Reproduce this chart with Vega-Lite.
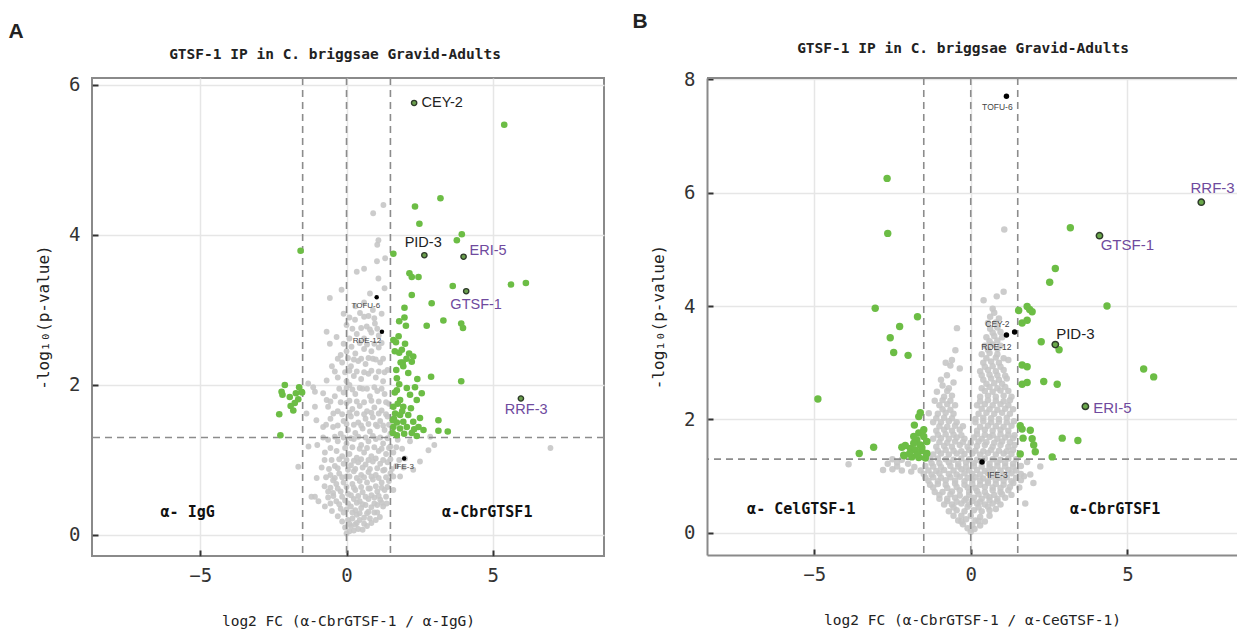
{
"$schema": "https://vega.github.io/schema/vega-lite/v6.json",
"background": "white",
"padding": {"left": 8, "top": 10, "right": 0, "bottom": 0},
"spacing": 26,
"config": {
  "view": {"stroke": "#8a8a8a", "strokeWidth": 2},
  "axis": {"domain": false, "grid": true, "gridColor": "#e6e6e6", "gridWidth": 1.5, "tickColor": "#333333", "tickSize": -6, "tickWidth": 2, "labelFont": "DejaVu Sans Mono", "labelFontSize": 19, "labelColor": "#333333", "titleFont": "DejaVu Sans Mono", "titleFontWeight": "normal", "titleColor": "#222222", "format": "d"},
  "axisX": {"labelPadding": 16, "titlePadding": 29, "titleFontSize": 14.5},
  "axisY": {"labelPadding": 18, "titlePadding": 17, "titleFontSize": 16},
  "title": {"color": "#222222"}
},
"datasets": {
  "aNs": [{"x":0.0,"y":0.02},{"x":0.1,"y":0.05},{"x":0.25,"y":0.06},{"x":0.4,"y":0.08},{"x":0.55,"y":0.07},{"x":-0.05,"y":0.1},{"x":0.15,"y":0.12},{"x":0.7,"y":0.12},{"x":0.3,"y":0.14},{"x":0.85,"y":0.16},
  {"x":-0.15,"y":0.18},{"x":0.05,"y":0.2},{"x":0.2,"y":0.22},{"x":0.45,"y":0.2},{"x":0.6,"y":0.23},{"x":0.8,"y":0.22},{"x":1.0,"y":0.2},{"x":1.14,"y":0.24},{"x":-0.3,"y":0.25},{"x":0.35,"y":0.27},{"x":0.7,"y":0.29},{"x":0.95,"y":0.3},
  {"x":-0.5,"y":0.32},{"x":-0.74,"y":0.38},{"x":-0.2,"y":0.35},{"x":0.0,"y":0.34},{"x":0.15,"y":0.38},{"x":0.3,"y":0.33},{"x":0.5,"y":0.36},{"x":0.65,"y":0.4},{"x":0.85,"y":0.37},{"x":1.05,"y":0.4},{"x":1.25,"y":0.38},{"x":1.37,"y":0.42},{"x":-0.35,"y":0.45},{"x":-0.05,"y":0.46},{"x":0.25,"y":0.48},{"x":0.45,"y":0.45},{"x":0.75,"y":0.48},{"x":0.95,"y":0.5},{"x":1.15,"y":0.47},{"x":-0.96,"y":0.45},{"x":-1.08,"y":0.51},{"x":-1.2,"y":0.51},{"x":-0.63,"y":0.5},
  {"x":-0.46,"y":0.56},{"x":-0.2,"y":0.58},{"x":0.05,"y":0.55},{"x":0.3,"y":0.6},{"x":0.55,"y":0.57},{"x":0.8,"y":0.62},{"x":1.05,"y":0.58},{"x":1.3,"y":0.6},{"x":1.6,"y":0.6},{"x":-0.75,"y":0.65},{"x":-0.35,"y":0.68},{"x":-0.1,"y":0.7},{"x":0.2,"y":0.68},{"x":0.45,"y":0.72},{"x":0.7,"y":0.7},{"x":0.9,"y":0.74},{"x":1.2,"y":0.7},{"x":1.45,"y":0.72},{"x":-1.02,"y":0.76},{"x":-0.63,"y":0.58},{"x":-0.46,"y":0.73},
  {"x":-0.55,"y":0.8},{"x":-0.25,"y":0.82},{"x":0.0,"y":0.78},{"x":0.25,"y":0.85},{"x":0.5,"y":0.8},{"x":0.75,"y":0.84},{"x":1.0,"y":0.8},{"x":1.25,"y":0.86},{"x":1.5,"y":0.82},{"x":1.83,"y":0.78},{"x":2.28,"y":0.87},{"x":-0.85,"y":0.9},{"x":-0.4,"y":0.92},{"x":-0.1,"y":0.95},{"x":0.15,"y":0.93},{"x":0.4,"y":0.97},{"x":0.65,"y":0.94},{"x":0.9,"y":0.98},{"x":1.15,"y":0.95},{"x":1.4,"y":0.97},{"x":1.7,"y":0.92},{"x":2.51,"y":0.98},{"x":-1.65,"y":0.91},{"x":-0.51,"y":1.0},
  {"x":-0.34,"y":1.12},{"x":-0.74,"y":1.1},{"x":-0.63,"y":1.27},{"x":-0.15,"y":1.05},{"x":0.1,"y":1.08},{"x":0.35,"y":1.03},{"x":0.6,"y":1.1},{"x":0.85,"y":1.05},{"x":1.1,"y":1.12},{"x":1.35,"y":1.08},{"x":1.6,"y":1.1},{"x":1.9,"y":1.15},{"x":2.17,"y":1.25},{"x":2.8,"y":1.13},{"x":3.0,"y":1.2},{"x":-1.0,"y":1.2},{"x":-0.3,"y":1.25},{"x":0.0,"y":1.22},{"x":0.25,"y":1.28},{"x":0.5,"y":1.2},{"x":0.75,"y":1.25},{"x":1.0,"y":1.28},{"x":1.25,"y":1.22},{"x":1.5,"y":1.18},{"x":1.75,"y":1.27},{"x":6.97,"y":1.16},{"x":2.86,"y":1.31},{"x":-1.3,"y":1.18},
  {"x":-0.46,"y":1.44},{"x":-0.8,"y":1.44},{"x":-1.03,"y":1.53},{"x":-1.37,"y":1.62},{"x":-0.2,"y":1.35},{"x":0.05,"y":1.4},{"x":0.3,"y":1.36},{"x":0.55,"y":1.42},{"x":0.8,"y":1.38},{"x":1.05,"y":1.45},{"x":1.3,"y":1.4},{"x":1.5,"y":1.35},{"x":-0.55,"y":1.55},{"x":-0.1,"y":1.52},{"x":0.15,"y":1.58},{"x":0.4,"y":1.5},{"x":0.65,"y":1.55},{"x":0.9,"y":1.57},{"x":1.15,"y":1.52},{"x":1.4,"y":1.58},
  {"x":-0.63,"y":1.71},{"x":-1.08,"y":1.71},{"x":-0.68,"y":1.8},{"x":-0.8,"y":1.89},{"x":-1.08,"y":1.91},{"x":-1.14,"y":1.97},{"x":-0.3,"y":1.65},{"x":0.0,"y":1.76},{"x":0.2,"y":1.68},{"x":0.45,"y":1.72},{"x":0.7,"y":1.65},{"x":0.95,"y":1.7},{"x":1.2,"y":1.66},{"x":1.45,"y":1.75},{"x":-0.4,"y":1.85},{"x":-0.1,"y":1.9},{"x":0.3,"y":1.88},{"x":0.55,"y":1.95},{"x":0.8,"y":1.85},{"x":1.05,"y":1.92},{"x":1.3,"y":1.88},{"x":0.1,"y":2.0},
  {"x":-1.31,"y":2.02},{"x":-0.68,"y":2.06},{"x":-0.3,"y":2.1},{"x":0.0,"y":2.05},{"x":0.25,"y":2.12},{"x":0.5,"y":2.08},{"x":0.75,"y":2.15},{"x":1.0,"y":2.1},{"x":1.25,"y":2.05},{"x":-0.5,"y":2.25},{"x":-0.15,"y":2.3},{"x":0.15,"y":2.25},{"x":0.4,"y":2.32},{"x":0.65,"y":2.28},{"x":0.9,"y":2.35},{"x":1.15,"y":2.3},{"x":1.4,"y":2.2},{"x":-0.57,"y":2.55},{"x":0.17,"y":2.51},{"x":0.0,"y":2.45},{"x":0.3,"y":2.42},{"x":0.6,"y":2.48},{"x":0.85,"y":2.45},{"x":1.1,"y":2.5},{"x":-0.2,"y":2.4},
  {"x":-0.68,"y":2.71},{"x":-0.34,"y":2.64},{"x":0.1,"y":2.62},{"x":0.35,"y":2.68},{"x":0.6,"y":2.62},{"x":0.85,"y":2.7},{"x":1.1,"y":2.66},{"x":0.69,"y":2.78},{"x":0.97,"y":2.82},{"x":0.29,"y":2.87},{"x":0.46,"y":2.96},{"x":0.0,"y":2.8},{"x":0.75,"y":2.92},{"x":1.2,"y":2.95},{"x":-0.1,"y":2.95},
  {"x":-0.57,"y":3.16},{"x":-0.17,"y":3.27},{"x":0.8,"y":3.22},{"x":1.3,"y":3.29},{"x":1.09,"y":3.42},{"x":0.6,"y":3.55},{"x":0.35,"y":3.51},{"x":1.04,"y":3.65},{"x":1.32,"y":3.69},{"x":1.05,"y":3.87},{"x":1.09,"y":3.93},{"x":0.91,"y":4.29},{"x":1.26,"y":4.4},{"x":0.6,"y":3.1},{"x":0.3,"y":3.05},{"x":0.9,"y":3.0},
  {"x":0.1,"y":0.15},{"x":0.35,"y":0.16},{"x":0.6,"y":0.15},{"x":-0.1,"y":0.3},{"x":0.2,"y":0.3},{"x":0.45,"y":0.29},{"x":0.75,"y":0.31},{"x":1.05,"y":0.3},
  {"x":-0.55,"y":0.42},{"x":-0.25,"y":0.41},{"x":0.05,"y":0.42},{"x":0.35,"y":0.43},{"x":0.55,"y":0.41},{"x":0.95,"y":0.42},{"x":1.2,"y":0.43},
  {"x":-0.45,"y":0.52},{"x":-0.15,"y":0.51},{"x":0.15,"y":0.53},{"x":0.4,"y":0.52},{"x":0.65,"y":0.51},{"x":0.85,"y":0.53},{"x":1.1,"y":0.52},{"x":1.35,"y":0.51},
  {"x":-0.55,"y":0.63},{"x":-0.3,"y":0.62},{"x":0.0,"y":0.64},{"x":0.25,"y":0.63},{"x":0.5,"y":0.64},{"x":0.75,"y":0.62},{"x":1.0,"y":0.65},{"x":1.2,"y":0.63},{"x":1.4,"y":0.64},
  {"x":-0.7,"y":0.77},{"x":-0.4,"y":0.76},{"x":-0.15,"y":0.77},{"x":0.1,"y":0.78},{"x":0.35,"y":0.76},{"x":0.6,"y":0.77},{"x":0.85,"y":0.78},{"x":1.1,"y":0.76},{"x":1.35,"y":0.77},{"x":1.6,"y":0.78},
  {"x":-0.6,"y":0.88},{"x":-0.3,"y":0.89},{"x":0.05,"y":0.87},{"x":0.3,"y":0.88},{"x":0.55,"y":0.9},{"x":0.8,"y":0.88},{"x":1.05,"y":0.89},{"x":1.3,"y":0.87},{"x":1.55,"y":0.88},{"x":1.95,"y":0.9},
  {"x":-0.75,"y":1.0},{"x":-0.25,"y":1.01},{"x":0.0,"y":1.0},{"x":0.25,"y":0.99},{"x":0.5,"y":1.01},{"x":0.75,"y":1.0},{"x":1.0,"y":1.02},{"x":1.25,"y":1.0},{"x":1.5,"y":1.01},{"x":1.8,"y":1.0},{"x":2.0,"y":1.02},
  {"x":-0.55,"y":1.16},{"x":-0.05,"y":1.16},{"x":0.2,"y":1.17},{"x":0.45,"y":1.15},{"x":0.7,"y":1.16},{"x":0.95,"y":1.17},{"x":1.2,"y":1.15},{"x":1.45,"y":1.16},{"x":1.7,"y":1.17},
  {"x":-0.8,"y":1.3},{"x":-0.4,"y":1.31},{"x":-0.1,"y":1.3},{"x":0.15,"y":1.29},{"x":0.4,"y":1.31},{"x":0.65,"y":1.3},{"x":0.9,"y":1.32},{"x":1.15,"y":1.3},{"x":1.4,"y":1.29},
  {"x":-0.7,"y":1.47},{"x":-0.3,"y":1.46},{"x":0.0,"y":1.48},{"x":0.25,"y":1.47},{"x":0.5,"y":1.46},{"x":0.75,"y":1.48},{"x":1.0,"y":1.47},{"x":1.25,"y":1.46},{"x":1.45,"y":1.47},
  {"x":-0.45,"y":1.62},{"x":-0.15,"y":1.61},{"x":0.1,"y":1.63},{"x":0.35,"y":1.62},{"x":0.6,"y":1.61},{"x":0.85,"y":1.63},{"x":1.1,"y":1.62},{"x":1.35,"y":1.61},
  {"x":-0.55,"y":1.78},{"x":-0.2,"y":1.77},{"x":0.1,"y":1.79},{"x":0.35,"y":1.78},{"x":0.6,"y":1.77},{"x":0.85,"y":1.79},{"x":1.1,"y":1.78},{"x":1.35,"y":1.77},
  {"x":-0.25,"y":1.95},{"x":0.0,"y":1.96},{"x":0.2,"y":1.94},{"x":0.45,"y":1.96},{"x":0.7,"y":1.95},{"x":0.95,"y":1.97},{"x":1.2,"y":1.95},
  {"x":-0.4,"y":2.18},{"x":-0.05,"y":2.17},{"x":0.1,"y":2.19},{"x":0.35,"y":2.18},{"x":0.6,"y":2.17},{"x":0.85,"y":2.19},{"x":1.1,"y":2.18},{"x":1.3,"y":2.17},
  {"x":-0.3,"y":2.35},{"x":0.05,"y":2.36},{"x":0.25,"y":2.34},{"x":0.5,"y":2.35},{"x":0.75,"y":2.36},{"x":1.0,"y":2.34},{"x":1.25,"y":2.35},
  {"x":-0.1,"y":2.55},{"x":0.45,"y":2.56},{"x":0.7,"y":2.54},{"x":0.95,"y":2.55},{"x":1.2,"y":2.56},
  {"x":0.2,"y":2.75},{"x":0.5,"y":2.76},{"x":0.8,"y":2.74},{"x":1.05,"y":2.75},{"x":0.1,"y":2.9},{"x":0.6,"y":2.91},{"x":0.95,"y":2.89}],
  "aSig": [{"x":3.21,"y":4.49},{"x":2.34,"y":4.38},{"x":2.49,"y":4.15},{"x":3.94,"y":4.01},{"x":3.77,"y":3.93},{"x":1.6,"y":3.75},{"x":-1.57,"y":3.79},{"x":2.15,"y":3.49},{"x":2.23,"y":3.44},{"x":2.46,"y":3.44},{"x":3.63,"y":3.32},{"x":5.62,"y":3.34},{"x":6.13,"y":3.36},{"x":2.23,"y":3.2},{"x":2.91,"y":3.09},{"x":1.98,"y":3.03},{"x":1.98,"y":2.9},{"x":1.8,"y":2.85},{"x":2.03,"y":2.79},{"x":2.74,"y":2.79},{"x":3.31,"y":2.86},{"x":3.92,"y":2.82},{"x":3.98,"y":2.76},{"x":1.6,"y":2.6},{"x":1.69,"y":2.57},{"x":1.89,"y":2.47},{"x":1.8,"y":2.43},{"x":2.14,"y":2.42},{"x":2.28,"y":2.38},{"x":2.23,"y":2.31},{"x":1.92,"y":2.3},{"x":1.94,"y":2.25},{"x":1.72,"y":2.09},{"x":2.11,"y":2.16},{"x":2.89,"y":2.11},{"x":2.42,"y":2.08},{"x":3.92,"y":2.05},{"x":1.8,"y":2.01},{"x":1.72,"y":1.93},{"x":2.06,"y":1.96},{"x":2.34,"y":1.97},{"x":1.83,"y":1.8},{"x":2.17,"y":1.87},{"x":2.57,"y":1.89},{"x":2.4,"y":1.8},{"x":1.6,"y":1.71},{"x":1.94,"y":1.71},{"x":2.2,"y":1.69},{"x":1.66,"y":1.62},{"x":1.83,"y":1.6},{"x":2.11,"y":1.6},{"x":2.51,"y":1.56},{"x":1.58,"y":1.53},{"x":1.72,"y":1.5},{"x":1.94,"y":1.51},{"x":2.28,"y":1.51},{"x":3.14,"y":1.53},{"x":1.6,"y":1.44},{"x":1.83,"y":1.42},{"x":2.06,"y":1.44},{"x":2.31,"y":1.41},{"x":2.63,"y":1.4},{"x":3.14,"y":1.39},{"x":3.46,"y":1.38},{"x":1.58,"y":1.36},{"x":1.72,"y":1.33},{"x":1.97,"y":1.35},{"x":2.23,"y":1.36},{"x":2.46,"y":1.44},{"x":2.4,"y":1.32},{"x":1.65,"y":1.9},{"x":1.75,"y":1.75},{"x":1.62,"y":1.55},{"x":1.9,"y":1.65},{"x":1.7,"y":2.2},{"x":1.85,"y":2.3},{"x":1.65,"y":2.45},{"x":1.78,"y":2.65},{"x":2.0,"y":2.55},{"x":2.05,"y":2.35},{"x":5.39,"y":5.47},
  {"x":-2.11,"y":2.0},{"x":-2.22,"y":1.91},{"x":-2.19,"y":1.87},{"x":-1.94,"y":1.84},{"x":-1.62,"y":1.97},{"x":-1.54,"y":1.91},{"x":-1.73,"y":1.89},{"x":-1.65,"y":1.81},{"x":-1.77,"y":1.76},{"x":-1.91,"y":1.72},{"x":-1.82,"y":1.66},{"x":-2.3,"y":1.61},{"x":-2.26,"y":1.33},{"x":-1.52,"y":1.9}],
  "aRef": [{"gene":"TOFU-6","x":1.03,"y":3.17},{"gene":"RDE-12","x":1.21,"y":2.71},{"gene":"IFE-3","x":1.97,"y":1.02}],
  "aHit": [{"gene":"CEY-2","x":2.31,"y":5.76},{"gene":"PID-3","x":2.66,"y":3.73},{"gene":"ERI-5","x":4.0,"y":3.71},{"gene":"GTSF-1","x":4.09,"y":3.25},{"gene":"RRF-3","x":5.96,"y":1.82}],
  "aLab": [{"gene":"CEY-2","x":3.27,"y":5.76,"kind":"core"},{"gene":"PID-3","x":2.62,"y":3.89,"kind":"core"},{"gene":"ERI-5","x":4.84,"y":3.79,"kind":"rnai"},{"gene":"GTSF-1","x":4.43,"y":3.07,"kind":"rnai"},{"gene":"RRF-3","x":6.14,"y":1.67,"kind":"rnai"},{"gene":"TOFU-6","x":0.66,"y":3.05,"kind":"minor"},{"gene":"RDE-12","x":0.7,"y":2.59,"kind":"minor"},{"gene":"IFE-3","x":1.97,"y":0.91,"kind":"minor"}],
  "aSide": [{"t":"α- IgG","x":-5.43,"y":0.31},{"t":"α-CbrGTSF1","x":4.81,"y":0.31}],
  "bNs": [{"x":0.0,"y":0.02},{"x":-0.1,"y":0.08},{"x":0.12,"y":0.07},{"x":-0.25,"y":0.15},{"x":0.05,"y":0.14},{"x":0.3,"y":0.13},{"x":-0.4,"y":0.22},{"x":-0.15,"y":0.24},{"x":0.15,"y":0.22},{"x":0.45,"y":0.2},{"x":-0.55,"y":0.3},{"x":-0.3,"y":0.3},{"x":0.0,"y":0.3},{"x":0.3,"y":0.28},{"x":0.6,"y":0.3},
  {"x":-0.7,"y":0.38},{"x":-0.45,"y":0.4},{"x":-0.2,"y":0.38},{"x":0.1,"y":0.4},{"x":0.35,"y":0.38},{"x":0.6,"y":0.4},{"x":0.8,"y":0.42},{"x":-0.85,"y":0.5},{"x":-0.6,"y":0.5},{"x":-0.3,"y":0.52},{"x":-0.05,"y":0.5},{"x":0.2,"y":0.52},{"x":0.45,"y":0.5},{"x":0.7,"y":0.52},{"x":0.95,"y":0.5},{"x":1.74,"y":0.52},{"x":-1.0,"y":0.6},{"x":-0.75,"y":0.6},{"x":-0.5,"y":0.62},{"x":-0.15,"y":0.6},{"x":0.1,"y":0.62},{"x":0.35,"y":0.6},{"x":0.6,"y":0.63},{"x":0.85,"y":0.6},{"x":1.1,"y":0.62},
  {"x":-1.15,"y":0.72},{"x":-0.9,"y":0.72},{"x":-0.6,"y":0.73},{"x":-0.35,"y":0.75},{"x":-0.05,"y":0.72},{"x":0.2,"y":0.74},{"x":0.45,"y":0.72},{"x":0.7,"y":0.75},{"x":0.95,"y":0.72},{"x":1.2,"y":0.75},{"x":-1.3,"y":0.85},{"x":-1.05,"y":0.86},{"x":-0.8,"y":0.85},{"x":-0.5,"y":0.87},{"x":-0.2,"y":0.85},{"x":0.05,"y":0.86},{"x":0.3,"y":0.85},{"x":0.55,"y":0.88},{"x":0.8,"y":0.86},{"x":1.05,"y":0.85},{"x":1.36,"y":0.88},{"x":2.0,"y":0.88},{"x":-1.45,"y":0.97},{"x":-1.2,"y":0.98},{"x":-0.95,"y":0.97},{"x":-0.65,"y":0.98},{"x":-0.35,"y":0.99},{"x":-0.1,"y":0.97},{"x":0.15,"y":0.98},{"x":0.4,"y":0.96},{"x":0.65,"y":0.99},{"x":0.9,"y":0.97},{"x":1.15,"y":0.98},{"x":1.45,"y":0.97},{"x":1.7,"y":1.0},
  {"x":-2.8,"y":1.11},{"x":-2.5,"y":1.12},{"x":-2.2,"y":1.1},{"x":-1.9,"y":1.08},{"x":-1.6,"y":1.1},{"x":-1.35,"y":1.1},{"x":-1.1,"y":1.09},{"x":-0.85,"y":1.11},{"x":-0.55,"y":1.1},{"x":-0.3,"y":1.12},{"x":-0.05,"y":1.1},{"x":0.2,"y":1.11},{"x":0.45,"y":1.09},{"x":0.7,"y":1.12},{"x":0.95,"y":1.1},{"x":1.2,"y":1.11},{"x":1.45,"y":1.1},{"x":2.22,"y":1.17},{"x":-3.9,"y":1.21},{"x":-2.65,"y":1.22},{"x":-2.35,"y":1.24},{"x":-2.0,"y":1.22},{"x":-1.25,"y":1.23},{"x":-1.0,"y":1.23},{"x":-0.7,"y":1.24},{"x":-0.4,"y":1.22},{"x":-0.15,"y":1.24},{"x":0.1,"y":1.23},{"x":0.35,"y":1.24},{"x":0.6,"y":1.22},{"x":0.85,"y":1.24},{"x":1.1,"y":1.23},{"x":1.35,"y":1.22},{"x":1.8,"y":1.25},
  {"x":-1.2,"y":1.38},{"x":-0.95,"y":1.4},{"x":-0.7,"y":1.38},{"x":-0.45,"y":1.4},{"x":-0.2,"y":1.39},{"x":0.05,"y":1.4},{"x":0.3,"y":1.38},{"x":0.55,"y":1.41},{"x":0.8,"y":1.38},{"x":1.05,"y":1.4},{"x":1.3,"y":1.39},{"x":-1.1,"y":1.52},{"x":-0.85,"y":1.53},{"x":-0.6,"y":1.52},{"x":-0.35,"y":1.55},{"x":-0.1,"y":1.52},{"x":0.2,"y":1.53},{"x":0.45,"y":1.55},{"x":0.7,"y":1.52},{"x":0.95,"y":1.55},{"x":1.2,"y":1.52},{"x":1.4,"y":1.55},{"x":-1.2,"y":1.66},{"x":-0.95,"y":1.67},{"x":-0.7,"y":1.66},{"x":-0.45,"y":1.68},{"x":-0.2,"y":1.66},{"x":0.1,"y":1.68},{"x":0.35,"y":1.66},{"x":0.6,"y":1.69},{"x":0.85,"y":1.66},{"x":1.1,"y":1.68},{"x":1.35,"y":1.67},
  {"x":-1.1,"y":1.8},{"x":-0.85,"y":1.82},{"x":-0.6,"y":1.8},{"x":-0.35,"y":1.82},{"x":0.2,"y":1.8},{"x":0.45,"y":1.82},{"x":0.7,"y":1.8},{"x":0.95,"y":1.82},{"x":1.2,"y":1.8},{"x":-1.2,"y":1.95},{"x":-0.95,"y":1.95},{"x":-0.7,"y":1.97},{"x":-0.45,"y":1.95},{"x":0.15,"y":1.95},{"x":0.4,"y":1.97},{"x":0.65,"y":1.95},{"x":0.9,"y":1.96},{"x":1.15,"y":1.95},{"x":1.38,"y":1.97},{"x":-1.34,"y":2.11},{"x":-1.05,"y":2.1},{"x":-0.8,"y":2.12},{"x":-0.55,"y":2.1},{"x":0.25,"y":2.1},{"x":0.5,"y":2.12},{"x":0.75,"y":2.1},{"x":1.0,"y":2.12},{"x":1.25,"y":2.1},{"x":-1.0,"y":2.25},{"x":-0.75,"y":2.27},{"x":-0.5,"y":2.25},{"x":0.2,"y":2.25},{"x":0.45,"y":2.27},{"x":0.7,"y":2.25},{"x":0.95,"y":2.27},{"x":1.2,"y":2.25},{"x":-1.08,"y":2.49},{"x":-0.85,"y":2.4},{"x":-0.6,"y":2.42},{"x":0.3,"y":2.4},{"x":0.55,"y":2.42},{"x":0.8,"y":2.4},{"x":1.05,"y":2.42},{"x":1.3,"y":2.4},
  {"x":-0.76,"y":2.78},{"x":-0.9,"y":2.6},{"x":-0.55,"y":2.65},{"x":0.35,"y":2.55},{"x":0.6,"y":2.57},{"x":0.85,"y":2.55},{"x":1.1,"y":2.57},{"x":0.4,"y":2.7},{"x":0.65,"y":2.72},{"x":0.9,"y":2.7},{"x":1.15,"y":2.72},{"x":-0.65,"y":2.95},{"x":0.3,"y":2.85},{"x":0.55,"y":2.87},{"x":0.8,"y":2.85},{"x":1.05,"y":2.87},{"x":-0.49,"y":3.22},{"x":-0.6,"y":3.05},{"x":0.4,"y":3.0},{"x":0.65,"y":3.02},{"x":0.9,"y":3.0},{"x":1.2,"y":3.05},{"x":0.35,"y":3.15},{"x":0.6,"y":3.17},{"x":0.85,"y":3.15},{"x":-0.44,"y":3.61},{"x":0.45,"y":3.3},{"x":0.7,"y":3.32},{"x":0.95,"y":3.3},{"x":0.5,"y":3.45},{"x":0.75,"y":3.47},{"x":1.0,"y":3.45},{"x":0.62,"y":3.6},{"x":0.85,"y":3.62},{"x":0.62,"y":3.81},{"x":0.9,"y":3.78},{"x":0.41,"y":4.1},{"x":0.83,"y":4.17},{"x":1.05,"y":4.25},{"x":0.7,"y":3.95},{"x":1.07,"y":5.35},
  {"x":-0.3,"y":0.2},{"x":0.25,"y":0.21},{"x":-0.55,"y":0.45},{"x":-0.1,"y":0.46},{"x":0.25,"y":0.45},{"x":0.55,"y":0.46},
  {"x":-0.75,"y":0.56},{"x":-0.45,"y":0.55},{"x":-0.2,"y":0.57},{"x":0.05,"y":0.56},{"x":0.3,"y":0.55},{"x":0.6,"y":0.57},{"x":0.85,"y":0.56},
  {"x":-1.0,"y":0.67},{"x":-0.65,"y":0.68},{"x":-0.35,"y":0.66},{"x":-0.05,"y":0.67},{"x":0.25,"y":0.68},{"x":0.5,"y":0.66},{"x":0.75,"y":0.67},{"x":1.0,"y":0.68},{"x":1.3,"y":0.67},
  {"x":-1.2,"y":0.8},{"x":-0.75,"y":0.79},{"x":-0.45,"y":0.81},{"x":-0.1,"y":0.8},{"x":0.15,"y":0.79},{"x":0.45,"y":0.81},{"x":0.7,"y":0.8},{"x":0.95,"y":0.79},{"x":1.25,"y":0.81},{"x":1.55,"y":0.8},
  {"x":-1.35,"y":0.92},{"x":-1.05,"y":0.91},{"x":-0.8,"y":0.93},{"x":-0.5,"y":0.92},{"x":-0.2,"y":0.91},{"x":0.05,"y":0.93},{"x":0.3,"y":0.92},{"x":0.55,"y":0.91},{"x":0.8,"y":0.93},{"x":1.05,"y":0.92},{"x":1.3,"y":0.91},{"x":1.6,"y":0.93},
  {"x":-1.5,"y":1.04},{"x":-1.25,"y":1.03},{"x":-1.0,"y":1.05},{"x":-0.7,"y":1.04},{"x":-0.45,"y":1.03},{"x":-0.2,"y":1.05},{"x":0.05,"y":1.04},{"x":0.3,"y":1.03},{"x":0.55,"y":1.05},{"x":0.8,"y":1.04},{"x":1.05,"y":1.03},{"x":1.3,"y":1.05},{"x":1.6,"y":1.04},{"x":1.9,"y":1.03},
  {"x":-2.35,"y":1.17},{"x":-1.8,"y":1.16},{"x":-1.45,"y":1.18},{"x":-1.2,"y":1.17},{"x":-0.95,"y":1.16},{"x":-0.65,"y":1.18},{"x":-0.4,"y":1.17},{"x":-0.15,"y":1.16},{"x":0.1,"y":1.18},{"x":0.35,"y":1.17},{"x":0.6,"y":1.16},{"x":0.85,"y":1.18},{"x":1.1,"y":1.17},{"x":1.35,"y":1.16},{"x":1.6,"y":1.18},
  {"x":-2.5,"y":1.3},{"x":-2.2,"y":1.29},{"x":-1.3,"y":1.3},{"x":-1.05,"y":1.31},{"x":-0.8,"y":1.3},{"x":-0.55,"y":1.29},{"x":-0.3,"y":1.31},{"x":-0.05,"y":1.3},{"x":0.2,"y":1.29},{"x":0.45,"y":1.31},{"x":0.7,"y":1.3},{"x":0.95,"y":1.29},{"x":1.2,"y":1.31},{"x":1.45,"y":1.3},
  {"x":-1.05,"y":1.45},{"x":-0.8,"y":1.46},{"x":-0.55,"y":1.45},{"x":-0.3,"y":1.44},{"x":-0.05,"y":1.46},{"x":0.15,"y":1.45},{"x":0.4,"y":1.44},{"x":0.65,"y":1.46},{"x":0.9,"y":1.45},{"x":1.15,"y":1.44},{"x":1.35,"y":1.46},
  {"x":-1.0,"y":1.6},{"x":-0.75,"y":1.59},{"x":-0.5,"y":1.61},{"x":-0.25,"y":1.6},{"x":0.0,"y":1.59},{"x":0.25,"y":1.61},{"x":0.5,"y":1.6},{"x":0.75,"y":1.59},{"x":1.0,"y":1.61},{"x":1.25,"y":1.6},
  {"x":-1.05,"y":1.73},{"x":-0.8,"y":1.74},{"x":-0.55,"y":1.73},{"x":-0.3,"y":1.72},{"x":0.2,"y":1.74},{"x":0.45,"y":1.73},{"x":0.7,"y":1.72},{"x":0.95,"y":1.74},{"x":1.2,"y":1.73},{"x":1.4,"y":1.72},
  {"x":-1.0,"y":1.88},{"x":-0.75,"y":1.87},{"x":-0.5,"y":1.89},{"x":-0.25,"y":1.88},{"x":0.3,"y":1.87},{"x":0.55,"y":1.89},{"x":0.8,"y":1.88},{"x":1.05,"y":1.87},{"x":1.3,"y":1.89},
  {"x":-1.1,"y":2.02},{"x":-0.85,"y":2.03},{"x":-0.6,"y":2.02},{"x":0.15,"y":2.01},{"x":0.4,"y":2.03},{"x":0.65,"y":2.02},{"x":0.9,"y":2.01},{"x":1.15,"y":2.03},
  {"x":-0.9,"y":2.18},{"x":-0.65,"y":2.17},{"x":0.35,"y":2.19},{"x":0.6,"y":2.18},{"x":0.85,"y":2.17},{"x":1.1,"y":2.19},{"x":1.35,"y":2.18},
  {"x":-1.15,"y":2.33},{"x":-0.9,"y":2.34},{"x":-0.65,"y":2.33},{"x":0.3,"y":2.32},{"x":0.55,"y":2.34},{"x":0.8,"y":2.33},{"x":1.05,"y":2.32},{"x":1.25,"y":2.34},
  {"x":-0.75,"y":2.5},{"x":0.45,"y":2.5},{"x":0.7,"y":2.49},{"x":0.95,"y":2.51},{"x":1.2,"y":2.5},{"x":0.5,"y":2.63},{"x":0.75,"y":2.64},{"x":1.0,"y":2.63},
  {"x":0.35,"y":2.78},{"x":0.6,"y":2.79},{"x":0.85,"y":2.78},{"x":1.1,"y":2.77},{"x":0.45,"y":2.93},{"x":0.7,"y":2.94},{"x":0.95,"y":2.93},
  {"x":0.5,"y":3.08},{"x":0.8,"y":3.09},{"x":1.05,"y":3.08},{"x":0.55,"y":3.23},{"x":0.85,"y":3.24},{"x":0.6,"y":3.38},{"x":0.85,"y":3.39},{"x":0.7,"y":3.53},{"x":0.95,"y":3.54},{"x":0.55,"y":3.7},{"x":0.8,"y":3.71},{"x":0.75,"y":3.88},
  {"x":-0.95,"y":2.7},{"x":-0.7,"y":2.55},{"x":-0.8,"y":3.0},{"x":-0.35,"y":2.9}],
  "bSig": [{"x":2.7,"y":4.66},{"x":2.52,"y":4.42},{"x":4.35,"y":4.0},{"x":3.18,"y":5.38},{"x":1.53,"y":3.92},{"x":1.8,"y":3.99},{"x":1.88,"y":3.94},{"x":1.96,"y":3.9},{"x":1.8,"y":3.75},{"x":1.64,"y":3.7},{"x":2.25,"y":3.37},{"x":2.82,"y":3.23},{"x":1.64,"y":2.96},{"x":1.8,"y":2.93},{"x":1.64,"y":2.62},{"x":1.8,"y":2.65},{"x":2.33,"y":2.67},{"x":2.76,"y":2.62},{"x":5.52,"y":2.89},{"x":5.84,"y":2.75},{"x":1.58,"y":1.89},{"x":1.9,"y":1.81},{"x":1.96,"y":1.66},{"x":1.67,"y":1.67},{"x":2.01,"y":1.55},{"x":2.06,"y":1.43},{"x":1.58,"y":1.39},{"x":1.64,"y":1.83},{"x":2.6,"y":1.34},{"x":2.92,"y":1.67},{"x":3.42,"y":1.63},
  {"x":-2.67,"y":6.25},{"x":-2.65,"y":5.28},{"x":-3.05,"y":3.96},{"x":-1.7,"y":3.81},{"x":-2.27,"y":3.64},{"x":-2.57,"y":3.44},{"x":-2.46,"y":3.18},{"x":-2.0,"y":3.13},{"x":-4.88,"y":2.36},{"x":-3.1,"y":1.51},{"x":-3.56,"y":1.4},{"x":-1.61,"y":2.12},{"x":-1.66,"y":2.05},{"x":-1.8,"y":1.9},{"x":-2.14,"y":1.37},{"x":-2.2,"y":1.51},
  {"x":-1.66,"y":1.76},{"x":-1.5,"y":1.7},{"x":-1.72,"y":1.64},{"x":-1.4,"y":1.61},{"x":-1.61,"y":1.55},{"x":-1.93,"y":1.49},{"x":-1.77,"y":1.46},{"x":-1.56,"y":1.45},{"x":-1.4,"y":1.4},{"x":-1.88,"y":1.34},{"x":-1.66,"y":1.33},{"x":-1.45,"y":1.32},{"x":-1.82,"y":1.7},{"x":-1.82,"y":1.58},{"x":-1.5,"y":1.82},{"x":-2.12,"y":1.36},{"x":-2.09,"y":1.54},{"x":-1.56,"y":1.5},{"x":-1.7,"y":1.38},{"x":-1.95,"y":1.4}],
  "bRef": [{"gene":"TOFU-6","x":1.14,"y":7.7},{"gene":"CEY-2","x":1.14,"y":3.49},{"gene":"RDE-12","x":1.4,"y":3.54},{"gene":"IFE-3","x":0.36,"y":1.25}],
  "bHit": [{"gene":"GTSF-1","x":4.11,"y":5.24},{"gene":"RRF-3","x":7.36,"y":5.83},{"gene":"PID-3","x":2.7,"y":3.32},{"gene":"ERI-5","x":3.66,"y":2.23}],
  "bLab": [{"gene":"TOFU-6","x":0.85,"y":7.51,"kind":"minor"},{"gene":"RRF-3","x":7.72,"y":6.08,"kind":"rnai"},{"gene":"GTSF-1","x":5.0,"y":5.07,"kind":"rnai"},{"gene":"CEY-2","x":0.85,"y":3.68,"kind":"minor"},{"gene":"RDE-12","x":0.82,"y":3.28,"kind":"minor"},{"gene":"PID-3","x":3.34,"y":3.51,"kind":"core"},{"gene":"ERI-5","x":4.52,"y":2.2,"kind":"rnai"},{"gene":"IFE-3","x":0.85,"y":1.02,"kind":"minor"}],
  "bSide": [{"t":"α- CelGTSF-1","x":-5.41,"y":0.42},{"t":"α-CbrGTSF1","x":4.61,"y":0.42}]
},
"hconcat": [
 {
  "title": {"text": "A", "anchor": "start", "frame": "bounds", "font": "Liberation Sans", "fontSize": 21, "fontWeight": "bold", "dx": -26, "offset": 4},
  "vconcat": [{
   "title": {"text": "GTSF-1 IP in C. briggsae Gravid-Adults", "font": "DejaVu Sans Mono", "fontSize": 14.5, "fontWeight": "bold", "anchor": "middle", "frame": "group", "dx": -13, "offset": 13},
   "width": 512, "height": 478,
   "layer": [
    {"data": {"name": "aNs"}, "mark": {"type": "circle", "size": 34, "color": "#c6c6c6", "opacity": 0.9},
     "encoding": {
      "x": {"field": "x", "type": "quantitative", "scale": {"domain": [-8.7, 8.8], "nice": false, "zero": false}, "axis": {"values": [-5, 0, 5], "title": "log2 FC (α-CbrGTSF-1  / α-IgG)"}},
      "y": {"field": "y", "type": "quantitative", "scale": {"domain": [-0.28, 6.093], "nice": false, "zero": false}, "axis": {"values": [0, 2, 4, 6], "title": "-log₁₀(p-value)"}}}},
    {"data": {"values": [{"v": -1.5}, {"v": 0}, {"v": 1.5}]}, "mark": {"type": "rule", "color": "#8c8c8c", "strokeDash": [7, 5], "strokeWidth": 1.6},
     "encoding": {"x": {"field": "v", "type": "quantitative", "scale": {"domain": [-8.7, 8.8], "nice": false, "zero": false}}}},
    {"data": {"values": [{"v": 1.3}]}, "mark": {"type": "rule", "color": "#8c8c8c", "strokeDash": [7, 5], "strokeWidth": 1.6},
     "encoding": {"y": {"field": "v", "type": "quantitative", "scale": {"domain": [-0.28, 6.093], "nice": false, "zero": false}}}},
    {"data": {"name": "aSig"}, "mark": {"type": "circle", "size": 44, "color": "#6cbd45", "opacity": 1},
     "encoding": {"x": {"field": "x", "type": "quantitative", "scale": {"domain": [-8.7, 8.8], "nice": false, "zero": false}}, "y": {"field": "y", "type": "quantitative", "scale": {"domain": [-0.28, 6.093], "nice": false, "zero": false}}}},
    {"data": {"name": "aRef"}, "mark": {"type": "circle", "size": 20, "color": "#000000", "opacity": 1},
     "encoding": {"x": {"field": "x", "type": "quantitative", "scale": {"domain": [-8.7, 8.8], "nice": false, "zero": false}}, "y": {"field": "y", "type": "quantitative", "scale": {"domain": [-0.28, 6.093], "nice": false, "zero": false}}}},
    {"data": {"name": "aHit"}, "mark": {"type": "circle", "size": 28, "fill": "#6a9e4c", "stroke": "#2e3b2a", "strokeWidth": 1.4, "opacity": 1},
     "encoding": {"x": {"field": "x", "type": "quantitative", "scale": {"domain": [-8.7, 8.8], "nice": false, "zero": false}}, "y": {"field": "y", "type": "quantitative", "scale": {"domain": [-0.28, 6.093], "nice": false, "zero": false}}}},
    {"data": {"name": "aLab"}, "transform": [{"filter": "datum.kind !== 'minor'"}], "mark": {"type": "text", "font": "Liberation Sans", "fontSize": 14.5, "align": "center", "baseline": "middle"},
     "encoding": {"x": {"field": "x", "type": "quantitative", "scale": {"domain": [-8.7, 8.8], "nice": false, "zero": false}}, "y": {"field": "y", "type": "quantitative", "scale": {"domain": [-0.28, 6.093], "nice": false, "zero": false}}, "text": {"field": "gene"}, "color": {"field": "kind", "type": "nominal", "scale": {"domain": ["core", "rnai"], "range": ["#222222", "#6f4a9e"]}, "legend": null}}},
    {"data": {"name": "aLab"}, "transform": [{"filter": "datum.kind === 'minor'"}], "mark": {"type": "text", "font": "Liberation Sans", "fontSize": 8, "align": "center", "baseline": "middle", "color": "#444444"},
     "encoding": {"x": {"field": "x", "type": "quantitative", "scale": {"domain": [-8.7, 8.8], "nice": false, "zero": false}}, "y": {"field": "y", "type": "quantitative", "scale": {"domain": [-0.28, 6.093], "nice": false, "zero": false}}, "text": {"field": "gene"}}},
    {"data": {"name": "aSide"}, "mark": {"type": "text", "font": "DejaVu Sans Mono", "fontSize": 15, "fontWeight": "bold", "align": "center", "baseline": "middle", "color": "#111111"},
     "encoding": {"x": {"field": "x", "type": "quantitative", "scale": {"domain": [-8.7, 8.8], "nice": false, "zero": false}}, "y": {"field": "y", "type": "quantitative", "scale": {"domain": [-0.28, 6.093], "nice": false, "zero": false}}, "text": {"field": "t"}}}
   ]
  }]
 },
 {
  "title": {"text": "B", "anchor": "start", "frame": "bounds", "font": "Liberation Sans", "fontSize": 21, "fontWeight": "bold", "dx": -18, "offset": 9},
  "vconcat": [{
   "title": {"text": "GTSF-1 IP in C. briggsae Gravid-Adults", "font": "DejaVu Sans Mono", "fontSize": 14.5, "fontWeight": "bold", "anchor": "middle", "frame": "group", "dx": -9, "offset": 14},
   "width": 530, "height": 477,
   "view": {"stroke": null},
   "layer": [
    {"data": {"name": "bNs"}, "mark": {"type": "circle", "size": 42, "color": "#c6c6c6", "opacity": 0.9},
     "encoding": {
      "x": {"field": "x", "type": "quantitative", "scale": {"domain": [-8.42, 8.5], "nice": false, "zero": false}, "axis": {"values": [-5, 0, 5], "title": "log2 FC (α-CbrGTSF-1  / α-CeGTSF-1)", "domain": true, "domainColor": "#8a8a8a", "domainWidth": 2}},
      "y": {"field": "y", "type": "quantitative", "scale": {"domain": [-0.39, 8.02], "nice": false, "zero": false}, "axis": {"values": [0, 2, 4, 6, 8], "title": "-log₁₀(p-value)", "domain": true, "domainColor": "#8a8a8a", "domainWidth": 2}}}},
    {"data": {"values": [{"v": 8.02}]}, "mark": {"type": "rule", "color": "#8a8a8a", "strokeWidth": 2},
     "encoding": {"y": {"field": "v", "type": "quantitative", "scale": {"domain": [-0.39, 8.02], "nice": false, "zero": false}}}},
    {"data": {"values": [{"v": -1.5}, {"v": 0}, {"v": 1.5}]}, "mark": {"type": "rule", "color": "#8c8c8c", "strokeDash": [7, 5], "strokeWidth": 1.6},
     "encoding": {"x": {"field": "v", "type": "quantitative", "scale": {"domain": [-8.42, 8.5], "nice": false, "zero": false}}}},
    {"data": {"values": [{"v": 1.3}]}, "mark": {"type": "rule", "color": "#8c8c8c", "strokeDash": [7, 5], "strokeWidth": 1.6},
     "encoding": {"y": {"field": "v", "type": "quantitative", "scale": {"domain": [-0.39, 8.02], "nice": false, "zero": false}}}},
    {"data": {"name": "bSig"}, "mark": {"type": "circle", "size": 55, "color": "#6cbd45", "opacity": 1},
     "encoding": {"x": {"field": "x", "type": "quantitative", "scale": {"domain": [-8.42, 8.5], "nice": false, "zero": false}}, "y": {"field": "y", "type": "quantitative", "scale": {"domain": [-0.39, 8.02], "nice": false, "zero": false}}}},
    {"data": {"name": "bRef"}, "mark": {"type": "circle", "size": 30, "color": "#000000", "opacity": 1},
     "encoding": {"x": {"field": "x", "type": "quantitative", "scale": {"domain": [-8.42, 8.5], "nice": false, "zero": false}}, "y": {"field": "y", "type": "quantitative", "scale": {"domain": [-0.39, 8.02], "nice": false, "zero": false}}}},
    {"data": {"name": "bHit"}, "mark": {"type": "circle", "size": 40, "fill": "#6aa84a", "stroke": "#2e3b2a", "strokeWidth": 1.5, "opacity": 1},
     "encoding": {"x": {"field": "x", "type": "quantitative", "scale": {"domain": [-8.42, 8.5], "nice": false, "zero": false}}, "y": {"field": "y", "type": "quantitative", "scale": {"domain": [-0.39, 8.02], "nice": false, "zero": false}}}},
    {"data": {"name": "bLab"}, "transform": [{"filter": "datum.kind !== 'minor'"}], "mark": {"type": "text", "font": "Liberation Sans", "fontSize": 15, "align": "center", "baseline": "middle"},
     "encoding": {"x": {"field": "x", "type": "quantitative", "scale": {"domain": [-8.42, 8.5], "nice": false, "zero": false}}, "y": {"field": "y", "type": "quantitative", "scale": {"domain": [-0.39, 8.02], "nice": false, "zero": false}}, "text": {"field": "gene"}, "color": {"field": "kind", "type": "nominal", "scale": {"domain": ["core", "rnai"], "range": ["#222222", "#6f4a9e"]}, "legend": null}}},
    {"data": {"name": "bLab"}, "transform": [{"filter": "datum.kind === 'minor'"}], "mark": {"type": "text", "font": "Liberation Sans", "fontSize": 8.5, "align": "center", "baseline": "middle", "color": "#444444"},
     "encoding": {"x": {"field": "x", "type": "quantitative", "scale": {"domain": [-8.42, 8.5], "nice": false, "zero": false}}, "y": {"field": "y", "type": "quantitative", "scale": {"domain": [-0.39, 8.02], "nice": false, "zero": false}}, "text": {"field": "gene"}}},
    {"data": {"name": "bSide"}, "mark": {"type": "text", "font": "DejaVu Sans Mono", "fontSize": 15, "fontWeight": "bold", "align": "center", "baseline": "middle", "color": "#111111"},
     "encoding": {"x": {"field": "x", "type": "quantitative", "scale": {"domain": [-8.42, 8.5], "nice": false, "zero": false}}, "y": {"field": "y", "type": "quantitative", "scale": {"domain": [-0.39, 8.02], "nice": false, "zero": false}}, "text": {"field": "t"}}}
   ]
  }]
 }
]
}
